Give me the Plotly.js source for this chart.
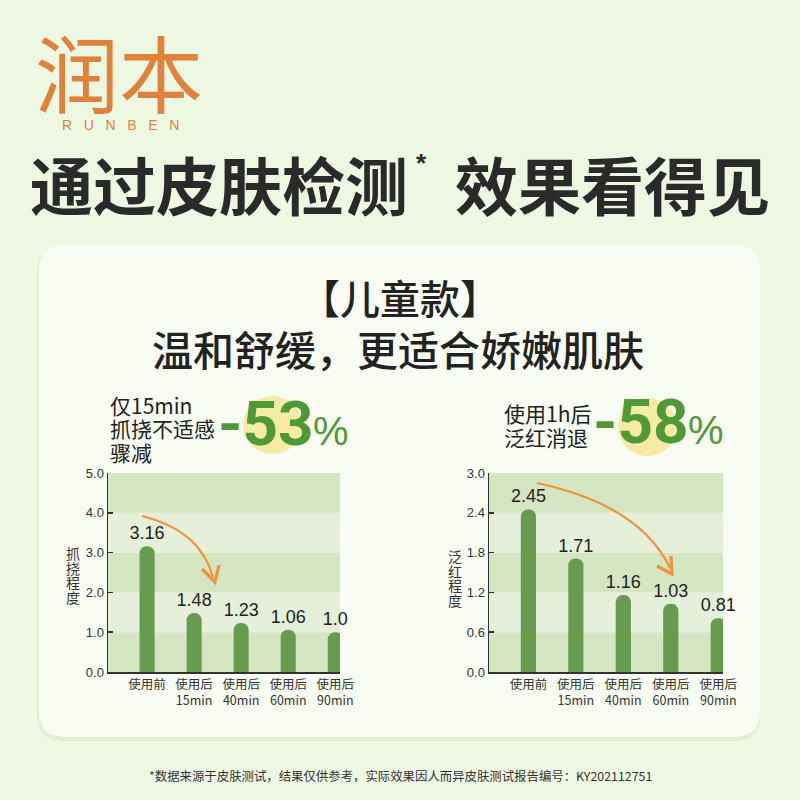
<!DOCTYPE html>
<html><head><meta charset="utf-8">
<script src="https://cdn.plot.ly/plotly-3.0.1.min.js"></script>
<style>html,body{margin:0;padding:0;background:#eef7e2;} #chart{width:800px;height:800px;}</style>
</head><body><div id="chart"></div>
<script>
// ---- data ----
const categories = ["使用前", "使用后<br>15min", "使用后<br>40min", "使用后<br>60min", "使用后<br>90min"];
const scratchValues = [3.16, 1.48, 1.23, 1.06, 1.0];
const scratchLabels = ["3.16", "1.48", "1.23", "1.06", "1.0"];
const scratchTicks = [0, 1, 2, 3, 4, 5];
const rednessValues = [2.45, 1.71, 1.16, 1.03, 0.81];
const rednessLabels = ["2.45", "1.71", "1.16", "1.03", "0.81"];
const rednessTicks = [0, 0.6, 1.2, 1.8, 2.4, 3.0];

// ---- helpers (page pixels -> paper, margins are 0) ----
const W = 800, H = 800;
const X = v => v / W, Y = v => 1 - v / H;
const P = (x, y) => X(x) + ',' + Y(y);
const CJK = '"Noto Sans CJK SC", "Noto Sans", sans-serif';
const NUM = '"Liberation Sans", Arial, sans-serif';
const BIG = 'Roboto, "Liberation Sans", sans-serif';
const BAR = '#689b50', DARK = '#d3e5c1', LIGHT = '#e5efd9', ORANGE = '#f0923a', GREEN = '#4f9a36';

function roundRect(x0, y0, x1, y1, r) {
  return 'M' + P(x0 + r, y0) + ' L' + P(x1 - r, y0) + ' Q' + P(x1, y0) + ' ' + P(x1, y0 + r) +
    ' L' + P(x1, y1 - r) + ' Q' + P(x1, y1) + ' ' + P(x1 - r, y1) +
    ' L' + P(x0 + r, y1) + ' Q' + P(x0, y1) + ' ' + P(x0, y1 - r) +
    ' L' + P(x0, y0 + r) + ' Q' + P(x0, y0) + ' ' + P(x0 + r, y0) + ' Z';
}

const xIdx = categories.map((c, i) => i);

const traces = [
  {type: 'bar', x: xIdx, y: scratchValues, text: scratchLabels, xaxis: 'x', yaxis: 'y',
   width: 0.32, marker: {color: BAR}, textposition: 'outside', cliponaxis: false, constraintext: 'none',
   textfont: {family: NUM, size: 18, color: '#222'}, hoverinfo: 'skip'},
  {type: 'bar', x: xIdx, y: rednessValues, text: rednessLabels, xaxis: 'x2', yaxis: 'y2',
   width: 0.32, marker: {color: BAR}, textposition: 'outside', cliponaxis: false, constraintext: 'none',
   textfont: {family: NUM, size: 18, color: '#222'}, hoverinfo: 'skip'}
];

const shapes = [];
// panel shadow + panel
shapes.push({type: 'path', xref: 'paper', yref: 'paper', path: roundRect(37, 248, 760, 741, 26),
  fillcolor: 'rgba(200,220,180,0.35)', line: {width: 0}, layer: 'below'});
shapes.push({type: 'path', xref: 'paper', yref: 'paper', path: roundRect(39, 245, 760, 737, 26),
  fillcolor: '#f8fcf2', line: {width: 0}, layer: 'below'});
// bands
function bands(ticks, xr, yr) {
  for (let i = 0; i < ticks.length - 1; i++) {
    shapes.push({type: 'rect', xref: xr + ' domain', yref: yr, x0: 0, x1: 1, y0: ticks[i], y1: ticks[i + 1],
      fillcolor: i % 2 === 0 ? DARK : LIGHT, line: {width: 0}, layer: 'below'});
  }
}
bands(scratchTicks, 'x', 'y');
bands(rednessTicks, 'x2', 'y2');
// yellow circles
shapes.push({type: 'circle', xref: 'paper', yref: 'paper', x0: X(243), x1: X(302), y0: Y(454), y1: Y(396),
  fillcolor: '#f5eaa6', line: {width: 0}, layer: 'below'});
shapes.push({type: 'circle', xref: 'paper', yref: 'paper', x0: X(618), x1: X(677), y0: Y(456), y1: Y(398),
  fillcolor: '#f5eaa6', line: {width: 0}, layer: 'below'});
// orange arrows
shapes.push({type: 'path', xref: 'paper', yref: 'paper', path: 'M' + P(142, 516) + ' Q' + P(200, 530) + ' ' + P(213, 577),
  line: {color: ORANGE, width: 2.2}});
shapes.push({type: 'path', xref: 'paper', yref: 'paper', path: 'M' + P(202, 569) + ' L' + P(215, 582) + ' L' + P(219, 565),
  line: {color: ORANGE, width: 3.2}});
shapes.push({type: 'path', xref: 'paper', yref: 'paper', path: 'M' + P(537, 483) + ' Q' + P(640, 505) + ' ' + P(670, 568),
  line: {color: ORANGE, width: 2.2}});
shapes.push({type: 'path', xref: 'paper', yref: 'paper', path: 'M' + P(657, 566) + ' L' + P(672, 574) + ' L' + P(671, 556),
  line: {color: ORANGE, width: 3.2}});

const annotations = [];
function T(text, x, y, size, opts) {
  opts = opts || {};
  annotations.push({xref: 'paper', yref: 'paper', x: X(x), y: Y(y), text: text, showarrow: false,
    xanchor: opts.xa || 'center', yanchor: 'middle',
    font: {family: opts.family || CJK, size: size, color: opts.color || '#222', weight: opts.weight || 400}});
}
// logo
T('润本', 119, 70, 84, {color: '#e0823c'});
T('R\u00a0\u00a0\u00a0U\u00a0\u00a0\u00a0N\u00a0\u00a0\u00a0B\u00a0\u00a0\u00a0E\u00a0\u00a0\u00a0N', 120, 125, 14, {color: '#e0823c', family: NUM});
// main title
T('通过皮肤检测', 28, 182, 63, {xa: 'left', weight: 700, color: '#2a2a2a'});
T('*', 421, 163, 26, {weight: 700, color: '#2a2a2a', family: NUM});
T('效果看得见', 772, 182, 63, {xa: 'right', weight: 700, color: '#2a2a2a'});
// panel headings
T('【儿童款】', 400, 297, 40, {weight: 500});
T('温和舒缓，更适合娇嫩肌肤', 398, 348, 41, {weight: 500});
// left header
T('仅15min', 108, 405, 21, {xa: 'left'});
T('抓挠不适感', 108, 428, 21, {xa: 'left'});
T('骤减', 108, 452, 21, {xa: 'left'});
T('-53', 216, 423, 62, {xa: 'left', family: BIG, weight: 700, color: GREEN});
T('%', 311, 431, 40, {xa: 'left', family: NUM, color: GREEN});
// right header
T('使用1h后', 502, 413, 21, {xa: 'left'});
T('泛红消退', 502, 437, 21, {xa: 'left'});
T('-58', 591, 421, 62, {xa: 'left', family: BIG, weight: 700, color: GREEN});
T('%', 686, 430, 40, {xa: 'left', family: NUM, color: GREEN});
// vertical axis titles
'抓挠程度'.split('').forEach((c, i) => T(c, 73, 553 + i * 14.7, 14, {color: '#333'}));
'泛红程度'.split('').forEach((c, i) => T(c, 455, 556 + i * 14.7, 14, {color: '#333'}));
// footnote
T('*数据来源于皮肤测试，结果仅供参考，实际效果因人而异皮肤测试报告编号：KY202112751', 400, 776, 12.4, {color: '#333'});

function xAxis(domain, anchor) {
  return {domain: domain, anchor: anchor, range: [-0.83, 4.1], tickvals: xIdx, ticktext: categories,
    showgrid: false, zeroline: false, showline: true, linecolor: '#333', linewidth: 1.5, ticks: '',
    tickfont: {family: CJK, size: 12.5, color: '#333'}, fixedrange: true};
}
function yAxis(domain, anchor, ticks) {
  return {domain: domain, anchor: anchor, range: [ticks[0], ticks[ticks.length - 1]], tickvals: ticks,
    tickformat: '.1f', showgrid: false, zeroline: false, showline: true, linecolor: '#333', linewidth: 1.5,
    ticks: 'inside', ticklen: 5, tickcolor: '#333', tickwidth: 1.5,
    tickfont: {family: NUM, size: 13, color: '#333'}, fixedrange: true};
}

const layout = {
  width: W, height: H, margin: {l: 0, r: 0, t: 0, b: 0},
  paper_bgcolor: '#eef7e2', plot_bgcolor: 'rgba(0,0,0,0)', showlegend: false,
  barcornerradius: 8,
  xaxis: xAxis([108 / W, 340 / W], 'y'),
  yaxis: yAxis([1 - 672 / H, 1 - 473 / H], 'x', scratchTicks),
  xaxis2: xAxis([489 / W, 723 / W], 'y2'),
  yaxis2: yAxis([1 - 672 / H, 1 - 473 / H], 'x2', rednessTicks),
  shapes: shapes, annotations: annotations
};
Plotly.newPlot('chart', traces, layout, {displayModeBar: false, staticPlot: true});
</script></body></html>
